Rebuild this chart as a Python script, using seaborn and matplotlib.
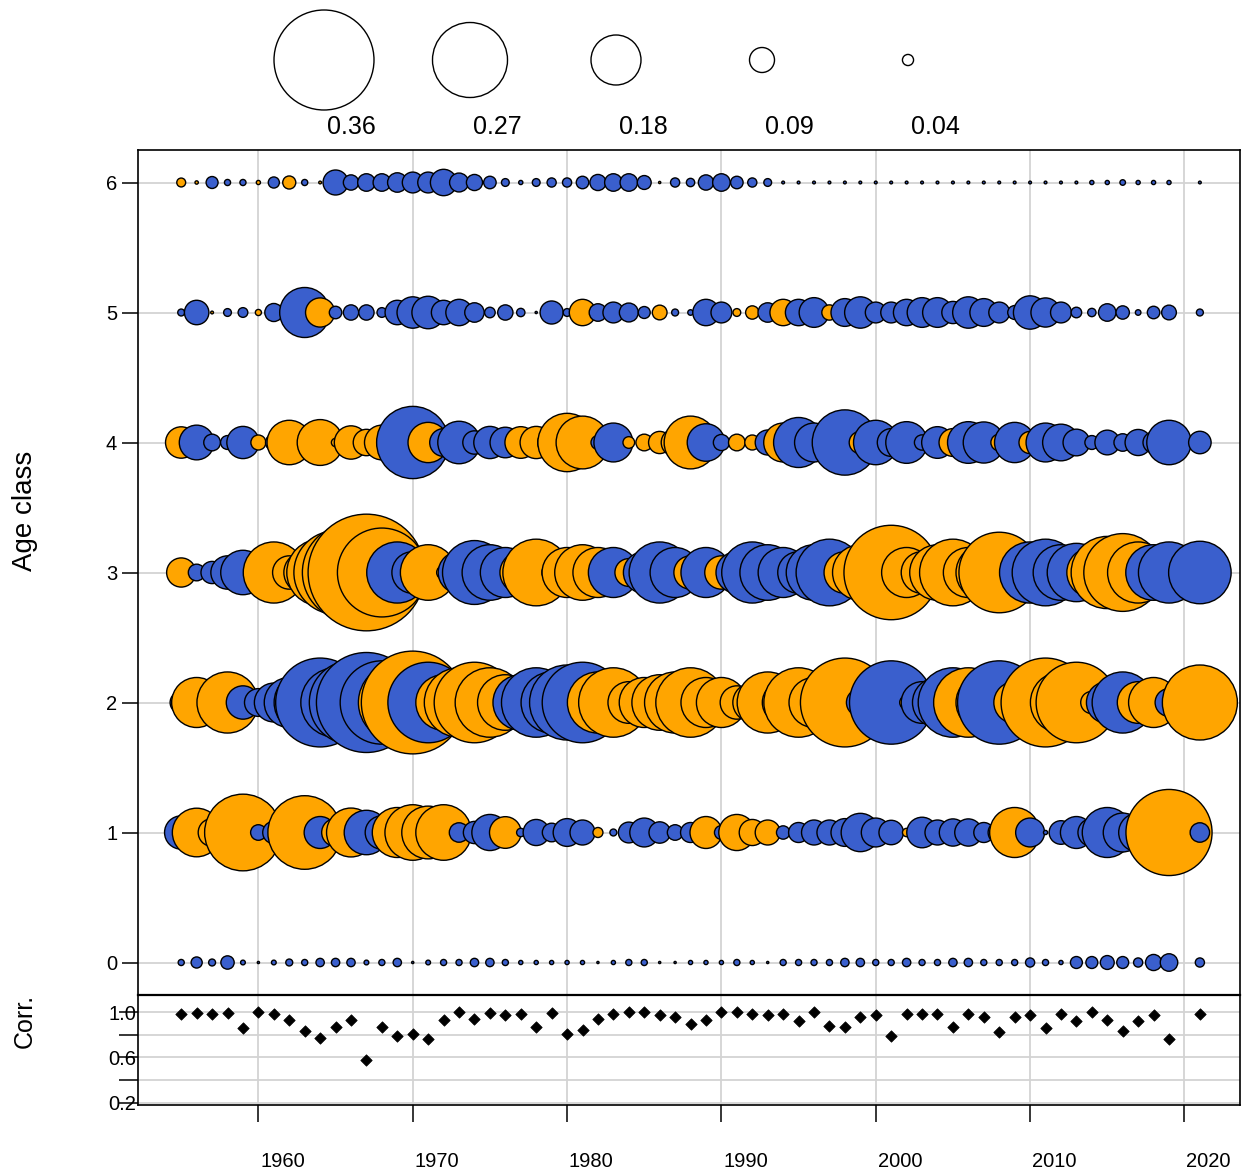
import numpy as np
import pandas as pd
import matplotlib
matplotlib.use("Agg")
import matplotlib.pyplot as plt
import seaborn as sns
from matplotlib.transforms import ScaledTranslation

# ---------------- data ----------------
years = list(range(1955, 2020)) + [2021]
ages = [0, 1, 2, 3, 4, 5, 6]

# signed residuals (positive = orange, negative = blue)
resid_age0 = [-0.022, -0.040, -0.025, -0.048, -0.017, -0.008, -0.017, -0.025, -0.022, -0.030,
              -0.030, -0.030, -0.017, -0.022, -0.030, -0.008, -0.017, -0.022, -0.022, -0.030,
              -0.030, -0.022, -0.015, -0.015, -0.015, -0.015, -0.015, -0.008, -0.015, -0.022,
              -0.022, -0.008, -0.008, -0.015, -0.015, -0.015, -0.022, -0.015, -0.008, -0.022,
              -0.022, -0.022, -0.022, -0.030, -0.030, -0.022, -0.022, -0.030, -0.022, -0.022,
              -0.030, -0.030, -0.022, -0.022, -0.022, -0.033, -0.022, -0.015, -0.043, -0.043,
              -0.050, -0.043, -0.033, -0.058, -0.063, -0.033]
resid_age1 = [-0.120, 0.175, 0.100, 0.100, 0.276, -0.056, -0.080, 0.100, 0.265, -0.115,
              0.100, 0.176, -0.160, -0.120, 0.180, 0.200, 0.190, 0.200, -0.070, -0.080,
              -0.130, 0.114, -0.030, -0.094, -0.067, -0.100, -0.090, 0.036, -0.025, -0.075,
              -0.104, -0.077, -0.056, -0.072, 0.115, -0.050, 0.130, 0.094, 0.090, -0.048,
              -0.072, -0.090, -0.090, -0.100, -0.138, -0.104, -0.088, 0.030, -0.110, -0.090,
              -0.098, -0.098, -0.072, -0.080, 0.180, -0.104, -0.015, -0.085, -0.115, -0.100,
              -0.180, -0.140, -0.140, -0.120, 0.310, -0.070]
resid_age2 = [-0.080, 0.180, 0.100, 0.220, -0.120, -0.100, -0.140, -0.180, -0.220, -0.320,
              -0.250, -0.300, -0.360, -0.300, 0.280, 0.370, -0.290, 0.200, 0.250, 0.290,
              0.250, 0.200, -0.200, -0.250, -0.220, -0.270, -0.290, 0.220, 0.250, 0.150,
              0.180, 0.200, 0.220, 0.250, 0.180, 0.180, 0.120, 0.140, 0.220, 0.150,
              0.250, 0.180, 0.150, 0.320, -0.100, -0.150, -0.300, 0.050, -0.150, -0.180,
              -0.250, 0.250, 0.200, -0.300, 0.150, 0.200, 0.320, 0.220, 0.290, 0.080,
              -0.150, -0.220, 0.150, 0.180, -0.100, 0.270]
resid_age3 = [0.105, -0.060, -0.080, -0.120, -0.160, -0.100, 0.220, 0.120, 0.150, 0.240,
              0.300, 0.350, 0.420, 0.320, -0.220, -0.150, 0.200, 0.050, -0.150, -0.230,
              -0.200, -0.180, 0.150, 0.240, 0.070, 0.180, 0.200, 0.180, -0.180, 0.100,
              -0.150, -0.220, -0.180, 0.120, -0.180, 0.120, -0.150, -0.220, -0.200, -0.180,
              -0.150, -0.200, -0.240, 0.150, 0.200, 0.220, 0.340, 0.180, 0.150, 0.200,
              0.240, 0.180, 0.200, 0.290, -0.100, -0.220, -0.240, -0.200, -0.210, 0.180,
              0.260, 0.280, 0.220, -0.200, -0.220, -0.225]
resid_age4 = [0.113, -0.125, -0.060, -0.050, -0.116, 0.054, -0.060, 0.160, 0.030, 0.165,
              0.030, 0.120, 0.095, 0.125, 0.100, -0.260, 0.145, -0.100, -0.153, -0.084,
              -0.116, -0.110, 0.114, 0.116, -0.100, 0.210, 0.190, -0.050, -0.140, 0.042,
              0.060, 0.080, 0.100, 0.190, -0.135, -0.058, 0.060, 0.054, -0.090, 0.140,
              -0.180, -0.140, -0.120, -0.235, 0.080, -0.160, -0.100, -0.150, -0.055, -0.114,
              0.100, -0.150, -0.148, 0.060, -0.145, 0.080, -0.140, -0.132, -0.096, -0.050,
              -0.089, -0.063, -0.094, -0.076, -0.160, -0.081]
resid_age5 = [-0.025, -0.088, 0.010, -0.028, -0.035, 0.022, -0.065, -0.030, -0.180, 0.105,
              -0.045, -0.055, -0.055, -0.035, -0.088, -0.113, -0.117, -0.088, -0.095, -0.070,
              -0.038, -0.055, -0.030, -0.008, -0.083, -0.028, 0.095, -0.063, -0.075, -0.068,
              -0.043, 0.053, -0.025, -0.020, -0.095, -0.075, 0.028, 0.048, -0.070, 0.095,
              -0.095, -0.107, 0.055, -0.100, -0.113, -0.075, -0.075, -0.095, -0.107, -0.107,
              -0.080, -0.113, -0.100, -0.075, -0.050, -0.120, -0.105, -0.075, -0.038, -0.030,
              -0.063, -0.048, -0.020, -0.045, -0.053, -0.025]
resid_age6 = [0.032, 0.012, -0.043, -0.022, -0.022, 0.015, -0.040, 0.047, -0.022, 0.010,
              -0.090, -0.055, -0.063, -0.063, -0.070, -0.075, -0.075, -0.095, -0.068, -0.058,
              -0.045, -0.028, -0.015, -0.028, -0.033, -0.033, -0.045, -0.058, -0.063, -0.063,
              -0.050, 0.008, -0.033, -0.030, -0.055, -0.063, -0.045, -0.033, -0.028, -0.010,
              -0.010, -0.010, -0.010, -0.010, -0.010, -0.010, -0.010, -0.010, -0.010, -0.010,
              -0.010, -0.010, -0.010, -0.010, -0.010, -0.010, -0.010, -0.010, -0.010, -0.015,
              -0.015, -0.020, -0.015, -0.015, -0.015, -0.010]

corr = [0.98, 0.99, 0.985, 0.99, 0.86, 1.00, 0.98, 0.93, 0.83, 0.77,
        0.87, 0.93, 0.58, 0.87, 0.79, 0.81, 0.76, 0.93, 1.00, 0.94,
        0.99, 0.97, 0.985, 0.87, 0.99, 0.81, 0.84, 0.94, 0.98, 1.00,
        1.00, 0.97, 0.955, 0.89, 0.93, 1.00, 1.00, 0.98, 0.97, 0.98,
        0.92, 1.00, 0.88, 0.87, 0.955, 0.97, 0.79, 0.98, 0.98, 0.98,
        0.87, 0.985, 0.96, 0.82, 0.96, 0.97, 0.86, 0.98, 0.92, 1.00,
        0.93, 0.83, 0.92, 0.97, 0.76, 0.98]

legend_values = [0.36, 0.27, 0.18, 0.09, 0.04]
legend_labels = ["0.36", "0.27", "0.18", "0.09", "0.04"]
decades = [1960, 1970, 1980, 1990, 2000, 2010, 2020]
corr_ticks = [0.2, 0.4, 0.6, 0.8, 1.0]
corr_ticklabels = ["0.2", "", "0.6", "", "1.0"]

ORANGE = "#FFA500"
BLUE = "#3A5FCD"
GRID = "#D3D3D3"

# ---------------- figure ----------------
sns.set_theme(style="white")
plt.rcParams["font.family"] = ["Liberation Sans", "DejaVu Sans"]

W, H = 1243, 1173
fig = plt.figure(figsize=(W / 100, H / 100), dpi=100)


def box(l, t, r, b):
    return [l / W, 1 - b / H, (r - l) / W, (b - t) / H]


ax = fig.add_axes(box(138, 150, 1240, 995))
axc = fig.add_axes(box(138, 995, 1240, 1105))
axl = fig.add_axes(box(0, 0, W, 150))

K = 200.0  # points of diameter per unit residual

all_resid = [resid_age0, resid_age1, resid_age2, resid_age3, resid_age4, resid_age5, resid_age6]
df = pd.DataFrame({
    "year": np.tile(years, len(ages)),
    "age": np.repeat(ages, len(years)),
    "resid": np.concatenate(all_resid),
})
df["sign"] = np.where(df["resid"] > 0, "pos", "neg")
df["area"] = df["resid"] ** 2

# ---------- main bubble panel ----------
ax.set_axisbelow(True)
sns.scatterplot(data=df, x="year", y="age", hue="sign",
                palette={"pos": ORANGE, "neg": BLUE},
                size="area", sizes=(0, K ** 2), size_norm=(0, 1),
                edgecolor="black", linewidth=1.0, legend=False, ax=ax, zorder=3)
ax.set_xlim(1952.2, 2023.6)
ax.set_ylim(-0.25, 6.25)
ax.set_xticks(decades)
ax.set_yticks(ages)
ax.set_yticklabels([str(a) for a in ages])
ax.grid(True, color=GRID, linewidth=1.3)
ax.tick_params(axis="x", length=0, labelbottom=False)
ax.tick_params(axis="y", direction="out", length=11.5, width=1.1, pad=3.5,
               labelsize=14.5, colors="black", left=True)
ax.set_xlabel("")
ax.set_ylabel("")
for s in ax.spines.values():
    s.set_color("black")
    s.set_linewidth(1.2)

# ---------- correlation panel ----------
axc.set_axisbelow(True)
sns.scatterplot(x=years, y=corr, marker="D", color="black", s=34,
                edgecolor="black", linewidth=0.5, ax=axc, zorder=3)
axc.set_xlim(1952.2, 2023.6)
axc.set_ylim(0.18, 1.15)
axc.set_xticks(decades)
axc.set_xticklabels([str(d) for d in decades])
axc.set_yticks(corr_ticks)
axc.set_yticklabels(corr_ticklabels)
axc.grid(True, color=GRID, linewidth=1.3)
axc.tick_params(axis="x", direction="out", length=12, width=1.1, pad=22,
                labelsize=14.5, colors="black", bottom=True)
axc.tick_params(axis="y", direction="out", length=14, width=1.1, pad=-13,
                labelsize=14.5, colors="black", left=True)
for lbl in axc.get_xticklabels():
    lbl.set_transform(lbl.get_transform() + ScaledTranslation(0.24, 0, fig.dpi_scale_trans))
for s in axc.spines.values():
    s.set_color("black")
    s.set_linewidth(1.2)
axc.spines["top"].set_linewidth(1.6)

# ---------- size legend ----------
leg_df = pd.DataFrame({
    "x": [324 + i * 146 for i in range(len(legend_values))],
    "y": [60] * len(legend_values),
    "area": np.array(legend_values) ** 2,
})
sns.scatterplot(data=leg_df, x="x", y="y", size="area", sizes=(0, K ** 2), size_norm=(0, 1),
                color="white", edgecolor="black", linewidth=1.0, legend=False, ax=axl,
                clip_on=False)
axl.set_xlim(0, W)
axl.set_ylim(150, 0)
axl.axis("off")
for xx, lab in zip(leg_df["x"], legend_labels):
    axl.text(xx + 27, 127, lab, ha="center", va="center", fontsize=18, color="black")

# ---------- axis titles ----------
fig.text(25 / W, 1 - 511 / H, "Age class", rotation=90, ha="center", va="center",
         fontsize=20, color="black")
fig.text(25 / W, 1 - 1021 / H, "Corr.", rotation=90, ha="center", va="center",
         fontsize=18, color="black")

fig.savefig("out.png", dpi=100)
